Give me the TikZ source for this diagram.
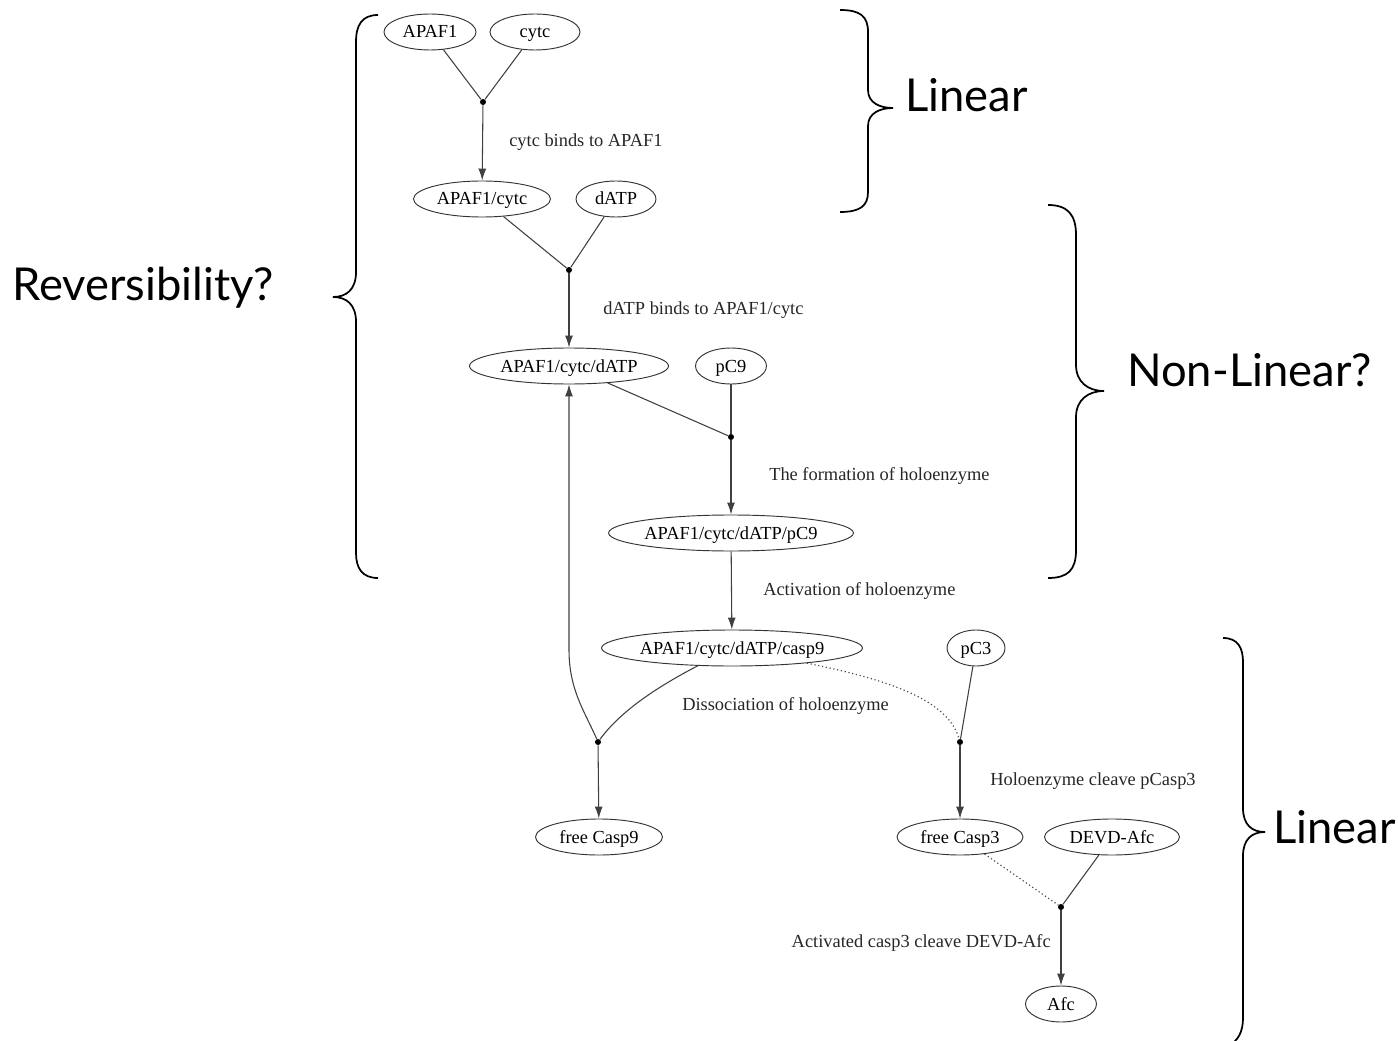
\documentclass[tikz,border=0pt]{standalone}
\usepackage{fontspec}
\setmainfont{Liberation Serif}
\newfontfamily\handfont{Lato}
\usetikzlibrary{shapes.geometric,arrows.meta}
\tikzset{
  st/.style={draw=black!80, line width=0.7pt, shape=ellipse, inner sep=0pt, minimum height=27pt, text height=11pt, text depth=2pt, font=\fontsize{13.8}{16}\selectfont},
  jn/.style={circle, fill=black, inner sep=0pt, minimum size=4.5pt},
  lbl/.style={font=\fontsize{13.8}{16}\selectfont, inner sep=0pt, text=black!85},
  ln/.style={draw=black!75, line width=0.8pt},
  arr/.style={ln, -{Latex[length=9pt,width=6pt]}},
  dot/.style={draw=black!70, line width=0.9pt, dotted},
  brace/.style={draw=black, line width=1.3pt},
  big/.style={font=\handfont\fontsize{34}{38}\selectfont, inner sep=0pt, anchor=base west}
}
\begin{document}
\begin{tikzpicture}[x=0.75pt,y=-0.75pt]
\useasboundingbox (0,0) rectangle (1398,1041);
% nodes
\node[st, minimum width=69pt]   (apaf)  at (430,32)  {APAF1};
\node[st, minimum width=67.5pt] (cytc)  at (535,32)  {cytc};
\node[jn] (j1) at (483,102) {};
\node[st, minimum width=102.75pt] (ac) at (482,199) {APAF1/cytc};
\node[st, minimum width=60pt]   (datp)  at (616,199) {dATP};
\node[jn] (j2) at (569,270) {};
\node[st, minimum width=149.25pt] (acd) at (569,366) {APAF1/cytc/dATP};
\node[st, minimum width=53.25pt] (pc9) at (731,366) {pC9};
\node[jn] (j3) at (731,437) {};
\node[st, minimum width=181.5pt] (holo) at (731,533) {APAF1/cytc/dATP/pC9};
\node[st, minimum width=195.75pt] (c9) at (732,648) {APAF1/cytc/dATP/casp9};
\node[st, minimum width=43.5pt] (pc3) at (976,648) {pC3};
\node[jn] (j4) at (598,742) {};
\node[jn] (j5) at (960,742) {};
\node[st, minimum width=95.25pt] (fc9) at (599,837) {free Casp9};
\node[st, minimum width=94.5pt] (fc3) at (960,837) {free Casp3};
\node[st, minimum width=101.25pt] (devd) at (1112,837) {DEVD-Afc};
\node[jn] (j6) at (1061,907) {};
\node[st, minimum width=53.25pt] (afc) at (1061,1004) {Afc};
% labels
\node[lbl, anchor=west] (l1) at (509,142) {cytc binds to APAF1};
\node[lbl, anchor=west] (l2) at (603,310) {dATP binds to APAF1/cytc};
\node[lbl, anchor=west] (l3) at (769,476) {The formation of holoenzyme};
\node[lbl, anchor=west] (l4) at (763,591) {Activation of holoenzyme};
\node[lbl, anchor=west] (l5) at (682,706) {Dissociation of holoenzyme};
\node[lbl, anchor=west] (l6) at (990,781) {Holoenzyme cleave pCasp3};
\node[lbl, anchor=east] (l7) at (1051,943) {Activated casp3 cleave DEVD-Afc};
% edges
\draw[ln] (apaf) -- (j1);
\draw[ln] (cytc) -- (j1);
\draw[arr] (j1) -- (ac);
\draw[ln] (ac) -- (j2);
\draw[ln] (datp) -- (j2);
\draw[arr] (j2) -- (acd);
\draw[ln] (acd) -- (j3);
\draw[ln] (pc9) -- (j3);
\draw[arr] (j3) -- (holo);
\draw[arr] (holo) -- (c9);
\draw[ln] (c9) .. controls (655,688) and (620,712) .. (j4);
\coordinate (up) at (569,650);
\draw[arr] (j4) .. controls (585,712) and (569,690) .. (up) -- (acd);
\draw[arr] (j4) -- (fc9);
\draw[dot] (c9) .. controls (890,680) and (948,700) .. (j5);
\draw[ln] (pc3) -- (j5);
\draw[arr] (j5) -- (fc3);
\draw[dot] (fc3) -- (j6);
\draw[ln] (devd) -- (j6);
\draw[arr] (j6) -- (afc);
% braces
\draw[brace] (378,15) .. controls (362,15) and (356,25) .. (356,42) -- (356,272)
  .. controls (356,290) and (346,297) .. (333,297)
  .. controls (346,297) and (356,304) .. (356,322) -- (356,553)
  .. controls (356,568) and (362,578) .. (378,578);
\draw[brace] (840,10) .. controls (860,10) and (868,16) .. (868,32) -- (868,90)
  .. controls (868,103) and (880,108) .. (893,108)
  .. controls (880,108) and (868,113) .. (868,126) -- (868,192)
  .. controls (868,206) and (860,212) .. (840,212);
\draw[brace] (1048,205) .. controls (1068,205) and (1076,215) .. (1076,235) -- (1076,365)
  .. controls (1076,382) and (1088,391) .. (1104,391)
  .. controls (1088,391) and (1076,400) .. (1076,417) -- (1076,550)
  .. controls (1076,570) and (1068,578) .. (1048,578);
\draw[brace] (1223,638) .. controls (1238,638) and (1243,648) .. (1243,662) -- (1243,808)
  .. controls (1243,825) and (1252,832) .. (1265,832)
  .. controls (1252,832) and (1243,839) .. (1243,856) -- (1243,1018)
  .. controls (1243,1032) and (1238,1041) .. (1228,1046);
% big labels
\node[big] (rev) at (12,300) {Reversibility?};
\node[big] (lin1) at (905,112) {Linear};
\node[big] (nonlin) at (1127,386) {Non-Linear?};
\node[big] (lin2) at (1273,843) {Linear};
\end{tikzpicture}
\end{document}
